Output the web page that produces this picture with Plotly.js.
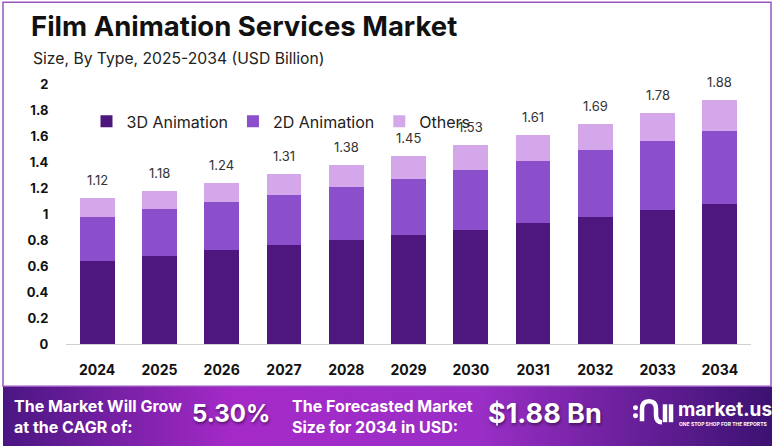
<!DOCTYPE html>
<html>
<head>
<meta charset="utf-8">
<script src="https://cdn.plot.ly/plotly-3.0.1.min.js"></script>
<style>
  html, body { margin: 0; padding: 0; background: #ffffff; }
  #chart { width: 776px; height: 447px; }
</style>
</head>
<body>
<div id="chart"></div>
<script>
// ---- data ----
const years = ["2024","2025","2026","2027","2028","2029","2030","2031","2032","2033","2034"];
const anim3D = [0.64, 0.68, 0.72, 0.76, 0.80, 0.84, 0.88, 0.93, 0.98, 1.03, 1.08];
const anim2D = [0.34, 0.36, 0.37, 0.39, 0.41, 0.43, 0.46, 0.48, 0.51, 0.53, 0.56];
const others = [0.14, 0.14, 0.15, 0.16, 0.17, 0.18, 0.19, 0.20, 0.20, 0.22, 0.24];
const totals = [1.12, 1.18, 1.24, 1.31, 1.38, 1.45, 1.53, 1.61, 1.69, 1.78, 1.88];
const seriesNames = ["3D Animation", "2D Animation", "Others"];
const titleText = "Film Animation Services Market";
const subtitleText = "Size, By Type, 2025-2034 (USD Billion)";
const cagrLabel = "The Market Will Grow<br>at the CAGR of:";
const cagrValue = "5.30%";
const forecastLabel = "The Forecasted Market<br>Size for 2034 in USD:";
const forecastValue = "$1.88 Bn";

// ---- layout geometry ----
const W = 776, H = 447;
const L = 66, R = 751, T = 83.5, B = 344.5;
const px = x => (x - L) / (R - L);
const py = y => (B - y) / (B - T);

const colors = ["#4e177e", "#8c4fcb", "#d4a7ea"];
const font = "Inter, 'Open Sans', sans-serif";

const traces = [anim3D, anim2D, others].map((vals, i) => ({
  type: "bar",
  name: seriesNames[i],
  x: years,
  y: vals,
  marker: { color: colors[i], line: { width: 0 } },
  hoverinfo: "x+y+name"
}));

// category axis: annotations use the category index
const annotations = years.map((yr, i) => ({
  x: i, y: totals[i], xref: "x", yref: "y",
  text: totals[i].toFixed(2),
  showarrow: false, yanchor: "bottom", yshift: 8,
  font: { family: font, size: 13, color: "#333333" }
}));

annotations.push(
  { xref: "paper", yref: "paper", x: px(29), y: py(25), xanchor: "left", yanchor: "middle",
    text: "<b>" + titleText + "</b>", showarrow: false,
    font: { family: font, size: 27.5, color: "#111111" } },
  { xref: "paper", yref: "paper", x: px(31), y: py(58), xanchor: "left", yanchor: "middle",
    text: subtitleText, showarrow: false,
    font: { family: font, size: 15.7, color: "#222222" } },
  { xref: "paper", yref: "paper", x: px(12), y: py(417), xanchor: "left", yanchor: "middle",
    text: "<b>" + cagrLabel + "</b>", showarrow: false, align: "left",
    font: { family: font, size: 16, color: "#ffffff" } },
  { xref: "paper", yref: "paper", x: px(190), y: py(414), xanchor: "left", yanchor: "middle",
    text: "<b>" + cagrValue + "</b>", showarrow: false,
    font: { family: font, size: 24, color: "#ffffff", shadow: "1px 2px 3px rgba(0,0,0,0.45)" } },
  { xref: "paper", yref: "paper", x: px(290), y: py(417), xanchor: "left", yanchor: "middle",
    text: "<b>" + forecastLabel + "</b>", showarrow: false, align: "left",
    font: { family: font, size: 16, color: "#ffffff" } },
  { xref: "paper", yref: "paper", x: px(486), y: py(414), xanchor: "left", yanchor: "middle",
    text: "<b>" + forecastValue + "</b>", showarrow: false,
    font: { family: font, size: 27, color: "#ffffff", shadow: "1px 2px 3px rgba(0,0,0,0.45)" } },
  { xref: "paper", yref: "paper", x: px(676), y: py(410), xanchor: "left", yanchor: "middle",
    text: "<b>market.us</b>", showarrow: false,
    font: { family: font, size: 19, color: "#ffffff" } },
  { xref: "paper", yref: "paper", x: px(677), y: py(425), xanchor: "left", yanchor: "middle",
    text: "<b>ONE STOP SHOP FOR THE REPORTS</b>", showarrow: false,
    font: { family: font, size: 5, color: "#ffffff" } }
);

const gradSvg = '<svg xmlns="http://www.w3.org/2000/svg" width="100" height="10" preserveAspectRatio="none">' +
  '<defs><linearGradient id="g" x1="0" y1="0" x2="1" y2="0">' +
  '<stop offset="0" stop-color="#4a1682"/>' +
  '<stop offset="0.3" stop-color="#a52ac8"/>' +
  '<stop offset="0.62" stop-color="#9a2ec6"/>' +
  '<stop offset="1" stop-color="#3c1272"/>' +
  '</linearGradient></defs><rect width="100" height="10" fill="url(#g)"/></svg>';
const gradUri = "data:image/svg+xml;charset=utf-8," + encodeURIComponent(gradSvg);

const shapes = [
  { type: "rect", xref: "paper", yref: "paper", x0: px(3), x1: px(771), y0: py(387), y1: py(1.5),
    line: { color: "#9a55c2", width: 1.5 }, fillcolor: "rgba(0,0,0,0)", layer: "below" },
  // logo icon
  { type: "circle", xref: "paper", yref: "paper", x0: px(633), x1: px(638), y0: py(411), y1: py(406),
    fillcolor: "#ffffff", line: { width: 0 } },
  { type: "circle", xref: "paper", yref: "paper", x0: px(633), x1: px(638), y0: py(419), y1: py(414),
    fillcolor: "#ffffff", line: { width: 0 } },
  { type: "path", xref: "paper", yref: "paper",
    path: "M " + px(642) + "," + py(422) + " L " + px(642) + "," + py(410) +
          " Q " + px(642) + "," + py(402) + " " + px(649) + "," + py(402) +
          " Q " + px(656) + "," + py(402) + " " + px(656) + "," + py(410) +
          " L " + px(656) + "," + py(416) +
          " Q " + px(656) + "," + py(423) + " " + px(662) + "," + py(423),
    line: { color: "#ffffff", width: 4.5 }, fillcolor: "rgba(0,0,0,0)" },
  { type: "line", xref: "paper", yref: "paper", x0: px(665), x1: px(665), y0: py(405), y1: py(423),
    line: { color: "#ffffff", width: 4.5 } },
  { type: "line", xref: "paper", yref: "paper", x0: px(671), x1: px(671), y0: py(405), y1: py(423),
    line: { color: "#ffffff", width: 4.5 } }
];

const layout = {
  width: W, height: H,
  margin: { l: L, r: W - R, t: T, b: H - B, pad: 0 },
  paper_bgcolor: "#ffffff",
  plot_bgcolor: "rgba(0,0,0,0)",
  barmode: "stack",
  bargap: 0.44,
  showlegend: true,
  legend: {
    orientation: "h", traceorder: "normal",
    x: px(86.5), y: py(121), xanchor: "left", yanchor: "middle",
    bgcolor: "rgba(0,0,0,0)", borderwidth: 0,
    font: { family: font, size: 16, color: "#222222" },
    itemwidth: 30
  },
  xaxis: {
    type: "category",
    range: [-0.5, 10.5],
    tickfont: { family: font, size: 14, color: "#111111", weight: "bold" },
    ticks: "outside", ticklen: 13, tickcolor: "rgba(0,0,0,0)",
    showline: true, linecolor: "#d0d0d0", linewidth: 1,
    showgrid: false, zeroline: false, fixedrange: true
  },
  yaxis: {
    range: [0, 2], dtick: 0.2, tick0: 0,
    tickfont: { family: font, size: 13, color: "#111111", weight: "bold" },
    ticks: "outside", ticklen: 14, tickcolor: "rgba(0,0,0,0)",
    showline: false, showgrid: false, zeroline: false, fixedrange: true
  },
  images: [{
    source: gradUri, xref: "paper", yref: "paper",
    x: px(3), y: py(387), sizex: px(772) - px(3), sizey: py(387) - py(447),
    xanchor: "left", yanchor: "top", sizing: "stretch", layer: "below"
  }],
  shapes: shapes,
  annotations: annotations
};

Plotly.newPlot("chart", traces, layout, { displayModeBar: false, staticPlot: true });
</script>
</body>
</html>
